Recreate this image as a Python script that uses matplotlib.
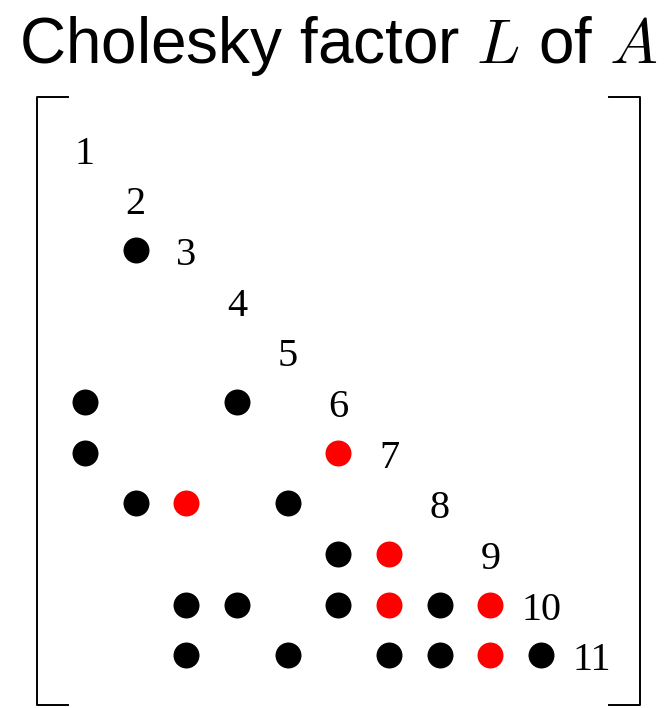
import matplotlib
matplotlib.use("Agg")
import matplotlib.pyplot as plt

plt.rcParams["mathtext.fontset"] = "cm"

# matrix size and nonzero pattern of L (1-based row, col), strictly below diagonal
n = 11
orig_rows = [3, 6, 6, 7, 8, 8, 9, 10, 10, 10, 10, 11, 11, 11, 11, 11]
orig_cols = [2, 1, 4, 1, 2, 5, 6, 3, 4, 6, 8, 3, 5, 7, 8, 10]
fill_rows = [7, 8, 9, 10, 10, 11]
fill_cols = [6, 3, 7, 7, 9, 9]
diag_labels = [str(i) for i in range(1, n + 1)]

fig = plt.figure(figsize=(6.69, 7.08), dpi=100)
ax = fig.add_axes([0, 0, 1, 1])
ax.set_xlim(-0.6775, 12.526)
ax.set_ylim(12.042, -1.931)
ax.axis("off")

ax.scatter(orig_cols, orig_rows, s=350, color="black", linewidths=0)
ax.scatter(fill_cols, fill_rows, s=350, color="red", linewidths=0)

for i, lab in enumerate(diag_labels, start=1):
    ax.text(i, i + 0.11, lab, ha="center", va="center",
            fontsize=29, family="Liberation Serif")

# brackets
lw = 1.4
xl, xr = 1 - 0.95, n + 0.95
yt, yb = 1 - 1.02, n + 0.98
arm = 0.61
ax.plot([xl + arm, xl, xl, xl + arm], [yt, yt, yb, yb], color="black", lw=lw)
ax.plot([xr - arm, xr, xr, xr - arm], [yt, yt, yb, yb], color="black", lw=lw)

fig.text(0.506, 0.911, r"Cholesky factor $L$ of $A$", ha="center", va="baseline",
         fontsize=46, family="Liberation Sans")

fig.savefig("out.png", dpi=100)
